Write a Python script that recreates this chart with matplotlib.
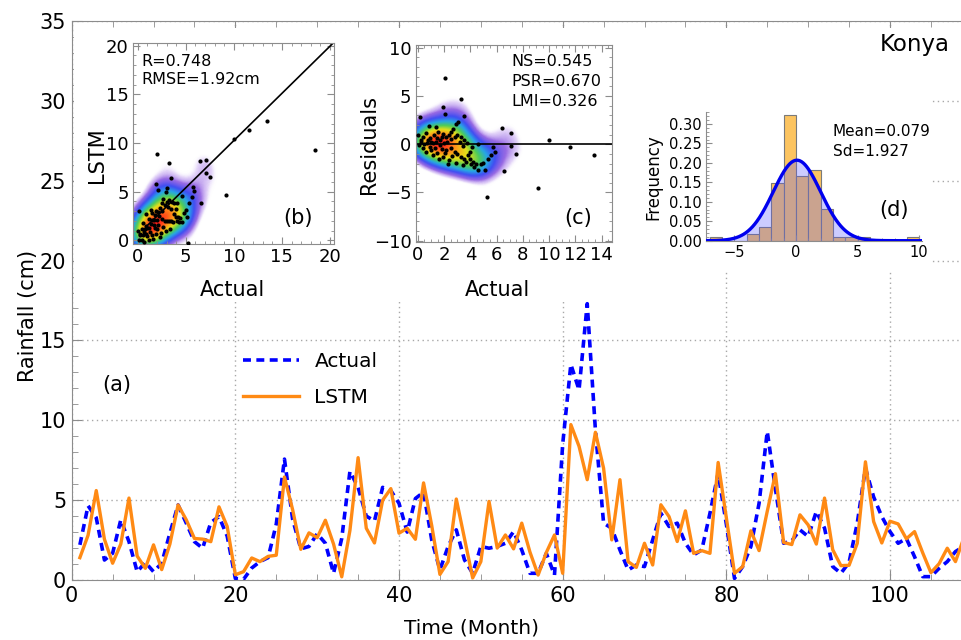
import numpy as np
import matplotlib
matplotlib.use("Agg")
import matplotlib.pyplot as plt
from matplotlib.colors import LinearSegmentedColormap
from matplotlib.patches import Rectangle
from matplotlib.ticker import MultipleLocator

plt.rcParams['font.family'] = ['DejaVu Sans']

# monthly rainfall, test period (cm)
months = np.arange(1, 110)
actual = [2.2, 4.65, 3.9, 1.25, 1.67, 3.77, 2.4, 0.52, 1.1, 0.52,
          1.05, 2.93, 4.7, 3.56, 2.4, 1.99, 3.6, 3.97, 2.75, 0.1,
          0.04, 0.75, 1.15, 1.4, 3.5, 7.57, 3.8, 1.95, 2.1, 2.9,
          2.3, 0.42, 2.6, 6.8, 5.8, 4.0, 3.7, 5.8, 5.6, 4.8,
          3.0, 5.1, 5.5, 2.5, 0.63, 2.1, 3.14, 1.26, 0.42, 2.1,
          1.99, 2.1, 2.3, 3.03, 1.88, 0.42, 0.42, 1.67, 0.31, 8.5,
          13.5, 11.9, 17.3, 9.4, 3.56, 3.24, 1.88, 0.63, 0.94, 0.84,
          2.51, 4.18, 3.35, 3.56, 2.3, 1.57, 1.88, 4.18, 6.69, 3.5,
          0.1, 0.84, 2.1, 4.8, 9.3, 5.7, 2.3, 2.45, 3.14, 2.72,
          4.29, 3.25, 0.84, 0.42, 1.1, 3.56, 7.0, 5.2, 3.97, 3.03,
          2.3, 2.6, 1.46, 0.21, 0.21, 0.73, 1.15, 1.78, 2.1]
lstm = [1.4, 2.8, 5.6, 2.55, 1.05, 2.25, 5.13, 1.5, 0.73, 2.2,
        0.65, 2.25, 4.7, 3.77, 2.6, 2.56, 2.4, 4.58, 3.35, 0.33,
        0.52, 1.38, 1.15, 1.48, 1.55, 6.45, 4.4, 1.92, 2.95, 2.65,
        3.74, 2.25, 0.2, 3.1, 7.66, 3.24, 2.32, 5.0, 5.72, 2.93,
        3.24, 2.55, 6.08, 3.4, 0.35, 1.15, 5.07, 2.6, 0.13, 1.15,
        4.92, 2.0, 2.82, 1.95, 3.56, 1.75, 0.31, 1.72, 2.82, 0.42,
        9.73, 8.37, 6.28, 9.25, 7.0, 2.51, 6.28, 1.15, 0.79, 2.3,
        0.94, 4.71, 3.97, 2.41, 4.33, 1.67, 1.84, 1.67, 7.36, 3.9,
        0.42, 0.84, 3.08, 1.84, 4.3, 6.66, 2.35, 2.22, 4.08, 3.45,
        2.25, 5.13, 1.9, 0.9, 0.92, 2.3, 7.4, 3.66, 2.32, 3.68,
        3.51, 2.58, 3.03, 1.7, 0.46, 1.02, 1.99, 1.15, 2.6]

# observed vs predicted pairs for the scatter panels
sc_actual = [0.13, 2.04, 1.9, 2.1, 3.3, 3.5, 6.44, 7.1, 7.1, 7.5,
             6.56, 5.25, 9.19, 10.0, 11.6, 13.4, 18.4,
             0.0, 0.2, 0.4, 0.6, 0.76, 0.9, 1.0, 0.84, 1.35, 1.5,
             1.65, 1.8, 1.95, 2.15, 2.35, 2.5, 2.65, 2.9, 3.05, 0.1,
             0.4, 0.65, 1.0, 1.3, 1.45, 1.6, 1.9, 2.3, 2.4, 1.15,
             1.4, 1.65, 2.0, 2.2, 2.55, 2.8, 3.0, 3.3, 3.55, 3.2,
             3.45, 3.75, 4.1, 4.6, 2.55, 2.8, 3.0, 3.25, 3.5, 3.7,
             3.95, 4.2, 4.4, 4.6, 4.8, 5.0, 5.1, 5.35, 5.6, 5.7,
             5.9, 3.8, 4.0, 2.15, 1.15, 0.25, 0.5, 0.7, 0.9, 1.2,
             1.45, 1.8, 2.05, 2.6, 2.9, 3.4, 4.05, 4.25]
sc_lstm = [2.97, 8.85, 5.78, 5.19, 7.97, 6.41, 8.15, 8.29, 6.94, 6.48,
           3.82, -0.25, 4.69, 10.43, 11.3, 12.3, 9.24,
           0.95, 0.6, 1.2, 1.8, 1.16, 0.64, 1.26, 2.74, 3.15, 2.8,
           2.05, 2.6, 3.05, 2.95, 3.3, 3.8, 4.25, 5.0, 5.35, 0.0,
           0.0, -0.15, 0.4, 0.9, 0.55, 0.1, 0.6, 0.3, 0.8, 1.25,
           1.66, 1.55, 2.1, 2.46, 3.05, 3.6, 3.95, 4.1, 3.95, 3.46,
           3.25, 3.85, 3.84, 4.6, 2.15, 2.0, 2.0, 1.95, 1.95, 1.9,
           2.4, 2.4, 2.3, 1.9, 2.8, 3.1, 2.4, 3.8, 4.5, 5.44,
           5.1, 2.7, 3.2, 1.55, 0.05, 0.51, 0.5, 0.85, 1.5, 2.15,
           2.05, 1.3, 1.15, 1.4, 1.0, 1.2, 2.0, 1.85]
fit_intercept = 0.55
fit_slope = 0.97

# residual histogram (bin width 1)
bin_left = np.arange(-7, 10)
bin_freq = [0.009, 0, 0, 0.016, 0.035, 0.149, 0.324, 0.166, 0.183, 0.082,
            0.009, 0.009, 0.009, 0, 0, 0, 0.009]
res_mean = 0.079
res_sd = 1.927

W, H = 962, 640
fig = plt.figure(figsize=(W / 100, H / 100), dpi=100)


def px_axes(left, top, right, bottom):
    return fig.add_axes([left / W, 1 - bottom / H, (right - left) / W, (bottom - top) / H])


def ftext(x, y, s, **kw):
    kw.setdefault('va', 'center')
    return fig.text(x / W, 1 - y / H, s, **kw)


def kde(xs, ys, xg, yg, hx, hy):
    X, Y = np.meshgrid(xg, yg)
    Z = np.zeros_like(X)
    for xi, yi in zip(xs, ys):
        Z += np.exp(-0.5 * (((X - xi) / hx) ** 2 + ((Y - yi) / hy) ** 2))
    return (Z / Z.max()) ** 0.8


# transparent below the level of a lone point, rainbow above
dens_cmap = LinearSegmentedColormap.from_list('dens', [
    (0.0, (1, 1, 1, 0)),
    (0.11, (1, 1, 1, 0)),
    (0.15, (0.78, 0.66, 0.95, 0.5)),
    (0.22, (0.55, 0.35, 0.88, 0.9)),
    (0.33, (0.25, 0.3, 0.95, 1)),
    (0.45, (0.15, 0.65, 0.9, 1)),
    (0.58, (0.3, 0.8, 0.35, 1)),
    (0.72, (0.9, 0.88, 0.1, 1)),
    (0.86, (1.0, 0.55, 0.1, 1)),
    (1.0, (1.0, 0.12, 0.1, 1))])

spine_col = '#8c8c8c'
grid_kw = dict(color='#a8a8a8', linestyle=(0, (1, 2.5)), linewidth=1)

# ---- (a) time series ----
ax = px_axes(71.7, 21, 962, 580)
ax.plot(months, actual, color='#0000ff', lw=2.6, ls=(0, (2.2, 1.5)), label='Actual', zorder=3)
ax.plot(months, lstm, color='#ff8a14', lw=2.4, label='LSTM', zorder=4)
ax.set_xlim(0, 108.8)
ax.set_ylim(0, 35)
ax.xaxis.set_major_locator(MultipleLocator(20))
ax.xaxis.set_minor_locator(MultipleLocator(5))
ax.yaxis.set_major_locator(MultipleLocator(5))
ax.yaxis.set_minor_locator(MultipleLocator(1))
ax.set_axisbelow(True)
ax.grid(True, which='major', **grid_kw)
for s in ax.spines.values():
    s.set_color(spine_col)
ax.spines['right'].set_visible(False)
ax.tick_params(which='both', direction='in', top=True, right=False, color=spine_col,
               labelsize=15, pad=4)
ax.tick_params(which='major', length=7)
ax.tick_params(which='minor', length=4)
ax.add_patch(Rectangle((74 / W, 1 - 301 / H), (620 - 74) / W, (301 - 28) / H,
                       transform=fig.transFigure, facecolor='white', edgecolor='none',
                       zorder=2, clip_on=False))
ax.add_patch(Rectangle((620 / W, 1 - 272 / H), (932 - 620) / W, (272 - 28) / H,
                       transform=fig.transFigure, facecolor='white', edgecolor='none',
                       zorder=2, clip_on=False))
ax.legend(loc='upper left', bbox_to_anchor=(243 / W, 1 - 352 / H), bbox_transform=fig.transFigure,
          frameon=False, fontsize=14.5, handlelength=2.8, handletextpad=0.75,
          labelspacing=0.85, borderpad=0, borderaxespad=0)
ftext(28, 316, 'Rainfall (cm)', rotation=90, ha='center', fontsize=15)
ftext(472, 628, 'Time (Month)', ha='center', fontsize=14.5)
ftext(117, 385, '(a)', ha='center', fontsize=15)
ftext(915, 45, 'Konya', ha='center', fontsize=16.5)

# ---- (b) LSTM vs actual ----
axb = px_axes(133, 43, 334, 244)
xb = np.linspace(-0.5, 20.5, 220)
yb = np.linspace(-0.5, 20.5, 220)
Zb = kde(sc_actual, sc_lstm, xb, yb, 1.1, 1.1)
axb.imshow(Zb, extent=(xb[0], xb[-1], yb[0], yb[-1]), origin='lower', cmap=dens_cmap,
           vmin=0, vmax=1, aspect='auto', interpolation='bilinear', zorder=1)
xf = np.array([1.0, 20.3])
axb.plot(xf, fit_intercept + fit_slope * xf, color='black', lw=1.2, zorder=2)
axb.scatter(sc_actual, sc_lstm, s=9, color='black', zorder=3, linewidths=0)
axb.set_xlim(-0.49, 20.42)
axb.set_ylim(-0.38, 20.28)
axb.xaxis.set_major_locator(MultipleLocator(5))
axb.xaxis.set_minor_locator(MultipleLocator(1))
axb.yaxis.set_major_locator(MultipleLocator(5))
axb.yaxis.set_minor_locator(MultipleLocator(1))

# ---- (c) residuals ----
sc_resid = np.array(sc_lstm) - np.array(sc_actual)
axc = px_axes(415.7, 45, 612, 242)
xc = np.linspace(-0.5, 15, 200)
yc = np.linspace(-10.5, 10.5, 220)
Zc = kde(sc_actual, sc_resid, xc, yc, 0.85, 1.1)
axc.imshow(Zc, extent=(xc[0], xc[-1], yc[0], yc[-1]), origin='lower', cmap=dens_cmap,
           vmin=0, vmax=1, aspect='auto', interpolation='bilinear', zorder=1)
axc.axhline(0, color='black', lw=1.2, zorder=2)
axc.scatter(sc_actual, sc_resid, s=9, color='black', zorder=3, linewidths=0)
axc.set_xlim(-0.17, 14.8)
axc.set_ylim(-10.13, 10.28)
axc.xaxis.set_major_locator(MultipleLocator(2))
axc.xaxis.set_minor_locator(MultipleLocator(0.5))
axc.yaxis.set_major_locator(MultipleLocator(5))
axc.yaxis.set_minor_locator(MultipleLocator(1))

for a in (axb, axc):
    for s in a.spines.values():
        s.set_color(spine_col)
    a.tick_params(which='both', direction='in', top=True, right=True, color=spine_col,
                  labelsize=13, pad=3)
    a.tick_params(which='major', length=5)
    a.tick_params(which='minor', length=2.5)

ftext(141.5, 61, 'R=0.748', fontsize=11.5)
ftext(141.5, 80, 'RMSE=1.92cm', fontsize=11.5)
ftext(298, 218, '(b)', ha='center', fontsize=15)
ftext(97, 155, 'LSTM', rotation=90, ha='center', fontsize=15)
ftext(232, 290, 'Actual', ha='center', fontsize=15)

ftext(511, 61, 'NS=0.545', fontsize=11.5)
ftext(511, 81, 'PSR=0.670', fontsize=11.5)
ftext(511, 101, 'LMI=0.326', fontsize=11.5)
ftext(578, 218, '(c)', ha='center', fontsize=15)
ftext(369, 145, 'Residuals', rotation=90, ha='center', fontsize=15)
ftext(497, 290, 'Actual', ha='center', fontsize=15)

# ---- (d) residual distribution ----
axd = px_axes(706, 112, 921.7, 240.7)
axd.bar(bin_left, bin_freq, width=1, align='edge', color='#fcc460',
        edgecolor='#7a7a7a', linewidth=0.8, zorder=1)
xn = np.linspace(-7.3, 10.2, 400)
pdf = np.exp(-0.5 * ((xn - res_mean) / res_sd) ** 2) / (res_sd * np.sqrt(2 * np.pi))
axd.fill_between(xn, 0, pdf, color=(0.35, 0.35, 1.0), alpha=0.3, linewidth=0, zorder=2)
axd.plot(xn, pdf, color='#0000ee', lw=2.4, zorder=3)
axd.set_xlim(-7.3, 10.2)
axd.set_ylim(0, 0.331)
axd.xaxis.set_major_locator(MultipleLocator(5))
axd.xaxis.set_minor_locator(MultipleLocator(1))
axd.yaxis.set_major_locator(MultipleLocator(0.05))
axd.yaxis.set_minor_locator(MultipleLocator(0.01))
axd.yaxis.set_major_formatter(matplotlib.ticker.FormatStrFormatter('%.2f'))
axd.spines['top'].set_visible(False)
axd.spines['right'].set_visible(False)
for s in ('left', 'bottom'):
    axd.spines[s].set_color(spine_col)
axd.tick_params(which='both', direction='in', color=spine_col, labelsize=10.5, pad=3)
axd.tick_params(which='major', length=4)
axd.tick_params(which='minor', length=2)
ftext(832.7, 131.7, 'Mean=0.079', fontsize=11)
ftext(832.7, 151.7, 'Sd=1.927', fontsize=11)
ftext(894, 210, '(d)', ha='center', fontsize=15)
ftext(653, 177, 'Frequency', rotation=90, ha='center', fontsize=12)

fig.savefig('out.png', dpi=100)
